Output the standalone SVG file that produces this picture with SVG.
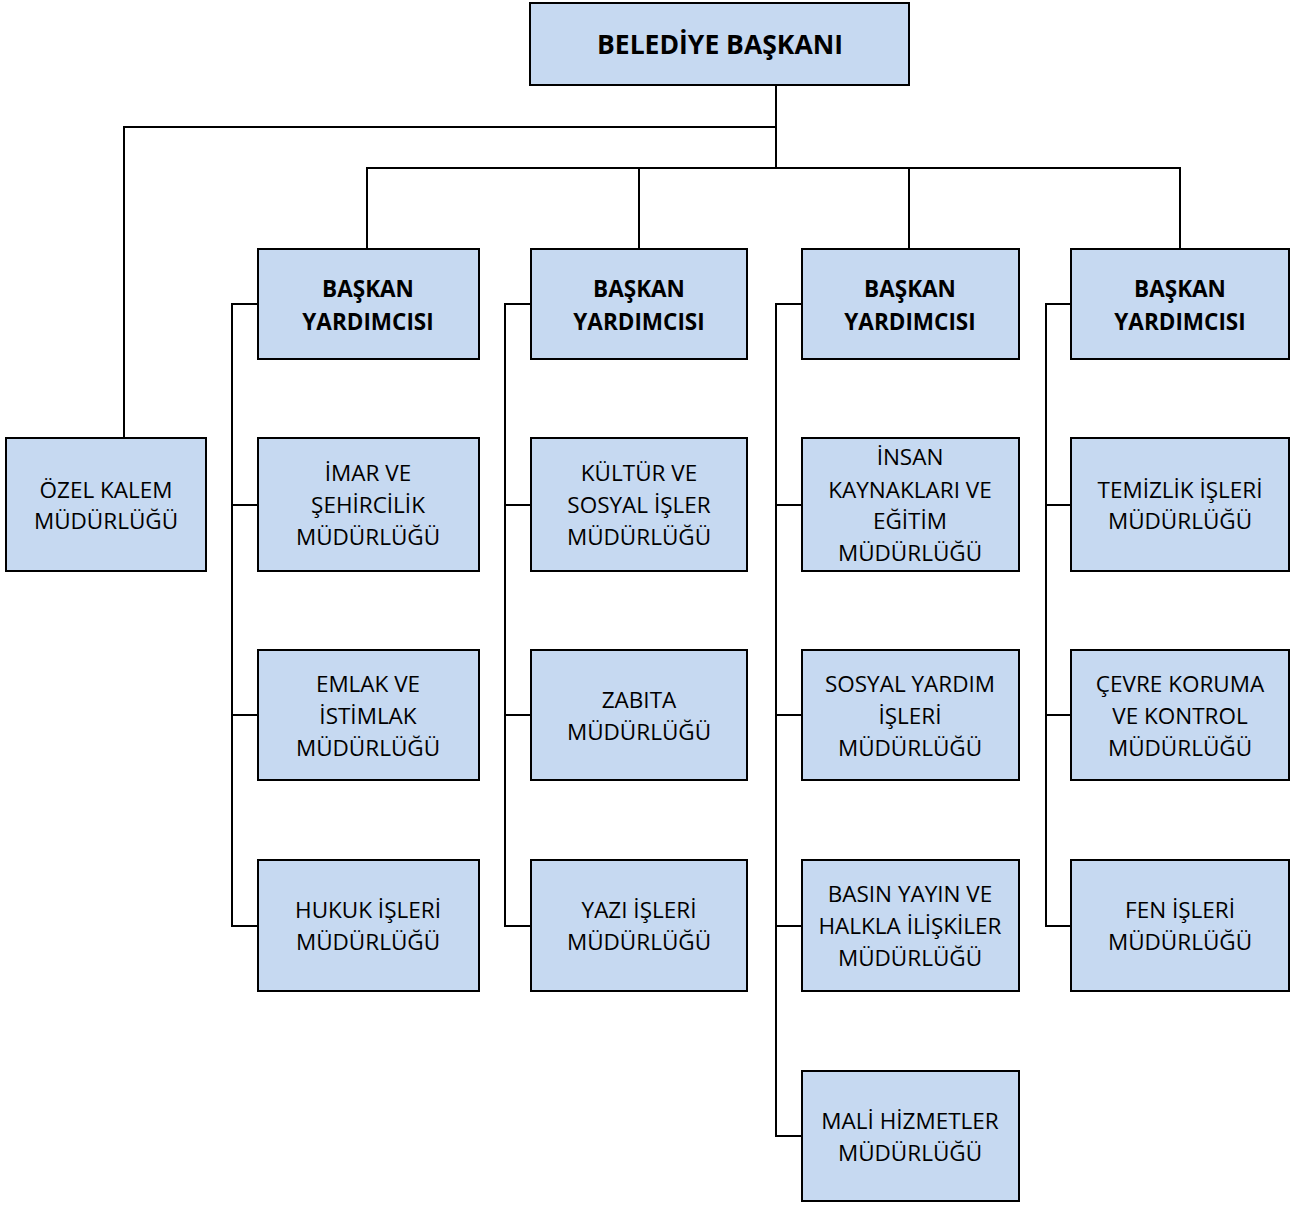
<svg xmlns="http://www.w3.org/2000/svg" width="1295" height="1205" viewBox="0 0 1295 1205">
<style>
.box{fill:#c6d9f1;stroke:#000;stroke-width:2}
.t{font-family:"Open Sans","Noto Sans",sans-serif;font-size:22.5px;fill:#000;text-anchor:middle}
.b{font-weight:bold}
.c{fill:none;stroke:#000;stroke-width:2}
</style>
<rect width="1295" height="1205" fill="#fff"/>
<g id="connectors" class="c">
<path d="M776 85V168M776 127H124V438M367 249V168H1180V249M639 168V249M909 168V249"/>
<path d="M258 304H232V926H258M232 505H258M232 715H258"/>
<path d="M531 304H505V926H531M505 505H531M505 715H531"/>
<path d="M802 304H776V1136H802M776 505H802M776 715H802M776 926H802"/>
<path d="M1071 304H1046V926H1071M1046 505H1071M1046 715H1071"/>
</g>
<g id="baskan"><rect class="box" x="530" y="3" width="379" height="82"/><text class="t b" x="720" y="54" style="font-size:26.5px">BELEDİYE BAŞKANI</text></g>
<g id="ozel"><rect class="box" x="6" y="438" width="200" height="133"/><text class="t" x="106" y="498">ÖZEL KALEM</text><text class="t" x="106" y="529">MÜDÜRLÜĞÜ</text></g>
<g id="by1"><rect class="box" x="258" y="249" width="221" height="110"/><text class="t b" x="368" y="297">BAŞKAN</text><text class="t b" x="368" y="330">YARDIMCISI</text></g>
<g id="by2"><rect class="box" x="531" y="249" width="216" height="110"/><text class="t b" x="639" y="297">BAŞKAN</text><text class="t b" x="639" y="330">YARDIMCISI</text></g>
<g id="by3"><rect class="box" x="802" y="249" width="217" height="110"/><text class="t b" x="910" y="297">BAŞKAN</text><text class="t b" x="910" y="330">YARDIMCISI</text></g>
<g id="by4"><rect class="box" x="1071" y="249" width="218" height="110"/><text class="t b" x="1180" y="297">BAŞKAN</text><text class="t b" x="1180" y="330">YARDIMCISI</text></g>
<g id="imar"><rect class="box" x="258" y="438" width="221" height="133"/><text class="t" x="368" y="481">İMAR VE</text><text class="t" x="368" y="513">ŞEHİRCİLİK</text><text class="t" x="368" y="545">MÜDÜRLÜĞÜ</text></g>
<g id="emlak"><rect class="box" x="258" y="650" width="221" height="130"/><text class="t" x="368" y="692">EMLAK VE</text><text class="t" x="368" y="724">İSTİMLAK</text><text class="t" x="368" y="756">MÜDÜRLÜĞÜ</text></g>
<g id="hukuk"><rect class="box" x="258" y="860" width="221" height="131"/><text class="t" x="368" y="918">HUKUK İŞLERİ</text><text class="t" x="368" y="950">MÜDÜRLÜĞÜ</text></g>
<g id="kultur"><rect class="box" x="531" y="438" width="216" height="133"/><text class="t" x="639" y="481">KÜLTÜR VE</text><text class="t" x="639" y="513">SOSYAL İŞLER</text><text class="t" x="639" y="545">MÜDÜRLÜĞÜ</text></g>
<g id="zabita"><rect class="box" x="531" y="650" width="216" height="130"/><text class="t" x="639" y="708">ZABITA</text><text class="t" x="639" y="740">MÜDÜRLÜĞÜ</text></g>
<g id="yazi"><rect class="box" x="531" y="860" width="216" height="131"/><text class="t" x="639" y="918">YAZI İŞLERİ</text><text class="t" x="639" y="950">MÜDÜRLÜĞÜ</text></g>
<g id="insan"><rect class="box" x="802" y="438" width="217" height="133"/><text class="t" x="910" y="465">İNSAN</text><text class="t" x="910" y="498">KAYNAKLARI VE</text><text class="t" x="910" y="529">EĞİTİM</text><text class="t" x="910" y="561">MÜDÜRLÜĞÜ</text></g>
<g id="sosyal"><rect class="box" x="802" y="650" width="217" height="130"/><text class="t" x="910" y="692">SOSYAL YARDIM</text><text class="t" x="910" y="724">İŞLERİ</text><text class="t" x="910" y="756">MÜDÜRLÜĞÜ</text></g>
<g id="basin"><rect class="box" x="802" y="860" width="217" height="131"/><text class="t" x="910" y="902">BASIN YAYIN VE</text><text class="t" x="910" y="934">HALKLA İLİŞKİLER</text><text class="t" x="910" y="966">MÜDÜRLÜĞÜ</text></g>
<g id="mali"><rect class="box" x="802" y="1071" width="217" height="130"/><text class="t" x="910" y="1129">MALİ HİZMETLER</text><text class="t" x="910" y="1161">MÜDÜRLÜĞÜ</text></g>
<g id="temizlik"><rect class="box" x="1071" y="438" width="218" height="133"/><text class="t" x="1180" y="498">TEMİZLİK İŞLERİ</text><text class="t" x="1180" y="529">MÜDÜRLÜĞÜ</text></g>
<g id="cevre"><rect class="box" x="1071" y="650" width="218" height="130"/><text class="t" x="1180" y="692">ÇEVRE KORUMA</text><text class="t" x="1180" y="724">VE KONTROL</text><text class="t" x="1180" y="756">MÜDÜRLÜĞÜ</text></g>
<g id="fen"><rect class="box" x="1071" y="860" width="218" height="131"/><text class="t" x="1180" y="918">FEN İŞLERİ</text><text class="t" x="1180" y="950">MÜDÜRLÜĞÜ</text></g>
</svg>
